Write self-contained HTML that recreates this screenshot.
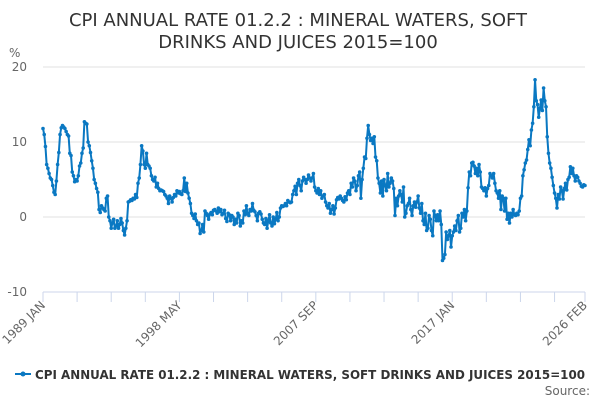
<!DOCTYPE html>
<html><head><meta charset="utf-8"><style>
html,body{margin:0;padding:0;background:#fff;}
svg{display:block;font-family:"DejaVu Sans","Liberation Sans",sans-serif;}
</style></head><body>
<svg id="chart" width="600" height="400" viewBox="0 0 600 400">
<g>
<text x="298" y="26" text-anchor="middle" font-size="18" fill="#333">CPI ANNUAL RATE 01.2.2 : MINERAL WATERS, SOFT</text>
<text x="298" y="48" text-anchor="middle" font-size="18" fill="#333">DRINKS AND JUICES 2015=100</text>
</g>
<text x="9" y="57" font-size="12" fill="#666">%</text>
<g id="grid"></g>
<g id="yticks"></g>
<g id="xaxis"></g>
<g id="series"></g>
<g>
<line x1="15" y1="374" x2="31" y2="374" stroke="#0a78c2" stroke-width="2"/>
<circle cx="23" cy="374" r="2.5" fill="#0a78c2"/>
<text x="35" y="379" font-size="12.5" font-weight="bold" fill="#333" textLength="550" lengthAdjust="spacingAndGlyphs">CPI ANNUAL RATE 01.2.2 : MINERAL WATERS, SOFT DRINKS AND JUICES 2015=100</text>
</g>
<text x="590" y="395" text-anchor="end" font-size="12" fill="#666">Source:</text>
</svg>
<script>
const startYear = 1989;
const yTicks = [20, 10, 0, -10];
const xTickLabels = ["1989 JAN", "1998 MAY", "2007 SEP", "2017 JAN", "2026 FEB"];
const xLabelMonths = [0, 112, 224, 336, 445];
const values = [
11.8,11.0,9.4,7.0,6.5,5.8,5.2,5.0,4.2,3.3,3.0,4.8,
7.0,8.6,11.0,11.9,12.2,12.0,11.8,11.4,11.0,10.8,8.5,8.2,
6.0,5.5,4.7,5.0,4.8,5.5,6.8,7.2,8.5,9.2,12.7,12.5,
12.4,10.0,9.5,8.6,7.5,6.5,5.0,4.5,3.8,3.3,1.0,0.6,
1.5,1.2,1.0,0.8,2.5,2.8,0.0,-0.5,-1.5,-0.8,-0.3,-1.5,
-1.2,-0.5,-1.5,-1.0,-0.2,-0.8,-1.8,-2.4,-1.5,-0.5,2.0,2.1,
2.3,2.2,2.5,2.4,3.0,2.6,4.5,5.2,7.0,9.5,8.8,7.0,
6.5,8.5,7.0,6.8,6.5,5.5,5.0,4.8,5.3,4.0,4.5,3.8,
3.5,3.6,3.5,3.4,3.0,2.8,2.5,1.8,2.8,2.5,2.0,2.6,
3.0,2.8,3.5,3.2,3.4,3.1,3.0,3.5,5.2,3.4,4.5,3.2,
2.5,1.8,0.5,0.2,-0.2,0.4,-0.5,-1.0,-0.8,-2.2,-1.8,-1.0,
-2.0,0.8,0.5,0.2,-0.3,0.4,0.6,0.3,0.9,1.0,0.8,0.5,
1.2,0.7,1.0,0.3,0.5,0.9,-0.2,-0.6,0.5,0.3,-0.5,0.2,
0.0,-1.0,-0.3,-0.8,0.5,0.2,-1.2,-0.5,-0.8,0.8,0.3,1.5,
0.5,0.2,1.0,0.8,1.8,0.9,0.7,0.2,-0.5,0.5,0.7,0.4,
-0.3,-0.8,-1.0,-0.2,-1.5,-0.5,0.3,-0.8,-1.2,0.0,-0.9,-0.3,
0.6,-0.5,0.0,1.2,1.5,1.4,1.5,1.8,1.5,2.2,2.0,1.9,
2.0,3.0,3.5,4.1,3.0,4.5,5.0,4.2,3.5,4.8,5.3,5.0,
4.5,5.0,5.6,5.2,4.8,5.2,5.8,4.0,3.5,3.2,3.8,3.0,
3.5,2.5,2.8,3.0,2.0,1.5,1.2,1.8,0.5,1.0,1.5,0.4,
1.2,2.3,2.6,2.4,2.8,2.5,2.2,2.0,2.7,2.3,3.2,3.5,
3.0,4.5,4.0,5.2,4.8,3.5,4.2,5.5,6.0,2.5,5.0,6.5,
8.0,7.8,10.5,12.2,11.0,10.2,10.5,9.8,10.7,8.0,7.5,5.2,
4.5,3.2,4.8,2.8,5.0,4.2,3.5,5.8,4.0,4.5,5.2,4.8,
3.8,0.2,2.5,1.5,2.8,3.5,3.0,2.0,4.0,0.0,0.5,1.5,
1.8,2.5,1.0,0.2,1.5,2.0,1.3,2.0,2.8,1.2,0.5,1.8,
-0.5,-1.0,0.5,-1.8,-1.5,0.2,-0.3,-1.8,-2.5,0.8,0.2,-0.5,
0.3,-0.5,0.8,-1.0,-5.8,-5.5,-5.0,-2.0,-3.0,-2.5,-1.8,-4.0,
-2.5,-2.0,-1.2,-1.8,-0.5,0.2,-2.0,-1.5,0.5,0.0,1.0,-0.5,
0.8,3.9,6.0,5.5,7.2,7.3,6.8,5.8,6.5,5.5,7.0,6.0,
4.0,3.8,3.5,3.9,2.8,3.8,4.2,5.8,5.5,5.2,5.8,4.5,
3.5,3.2,2.5,3.5,1.0,2.8,2.5,0.8,2.5,-0.3,0.5,-0.8,
0.5,0.0,1.0,0.3,0.2,0.5,0.3,0.8,2.5,2.8,5.5,6.3,
7.2,7.6,9.0,10.3,9.5,11.6,12.5,14.7,18.3,15.5,15.0,13.3,
14.5,15.6,14.2,17.2,15.5,14.7,10.7,8.5,7.2,6.5,5.3,4.2,
3.2,2.5,1.2,3.0,2.4,4.0,3.5,2.4,3.8,4.5,3.6,5.0,
5.3,6.7,5.8,6.5,5.5,4.8,5.5,5.3,4.8,4.5,4.1,4.0,
4.3,4.2
];

const NS = "http://www.w3.org/2000/svg";
const X0 = 43, X1 = 585, Y20 = 67, Y0 = 217;
const lastIdx = values.length - 1;
function xScale(i){ return X0 + (X1 - X0) * i / lastIdx; }
function yScale(v){ return Y0 - (Y0 - Y20) * v / 20; }
function mk(tag, attrs, parent){
  const e = document.createElementNS(NS, tag);
  for (const k in attrs) e.setAttribute(k, attrs[k]);
  parent.appendChild(e);
  return e;
}
const grid = document.getElementById("grid");
const yt = document.getElementById("yticks");
yTicks.forEach(t => {
  if (t !== -10) {
    const gl = mk("line", {x1: X0, x2: X1, y1: yScale(t), y2: yScale(t), stroke: "#e0e0e0", "stroke-width": 1}, grid);
    
    
  }
  const tx = mk("text", {x: 27, y: yScale(t) + 4, "text-anchor": "end", "font-size": 12, fill: "#666"}, yt);
  tx.textContent = String(t);
  
  
});
const xa = document.getElementById("xaxis");
const axisY = yScale(-10);
mk("line", {x1: X0, x2: X1, y1: axisY, y2: axisY, stroke: "#ccd6eb", "stroke-width": 1}, xa);
const tickMonths = [];
for (let m = 0; m <= lastIdx; m += 28) tickMonths.push(m);
if (tickMonths[tickMonths.length - 1] !== lastIdx) tickMonths.push(lastIdx);
tickMonths.forEach(m => {
  const tk = mk("line", {x1: xScale(m), x2: xScale(m), y1: axisY, y2: axisY + 10, stroke: "#ccd6eb", "stroke-width": 1}, xa);
  
  
});
xTickLabels.forEach((lab, k) => {
  const x = xScale(xLabelMonths[k]) + 3, y = axisY + 14;
  const tx = mk("text", {x: x, y: y, "text-anchor": "end", "font-size": 12, fill: "#666", transform: `rotate(-45 ${x} ${y})`}, xa);
  tx.textContent = lab;
  
  
});
const sg = document.getElementById("series");
const pts = values.map((v, i) => xScale(i).toFixed(2) + "," + yScale(v).toFixed(2)).join(" ");
const pl = mk("polyline", {points: pts, fill: "none", stroke: "#0a78c2", "stroke-width": 2, "stroke-linejoin": "round"}, sg);


values.forEach((v, i) => {
  const c = mk("circle", {cx: xScale(i), cy: yScale(v), r: 1.8, fill: "#0a78c2"}, sg);
  
  
});
</script>
</body></html>
